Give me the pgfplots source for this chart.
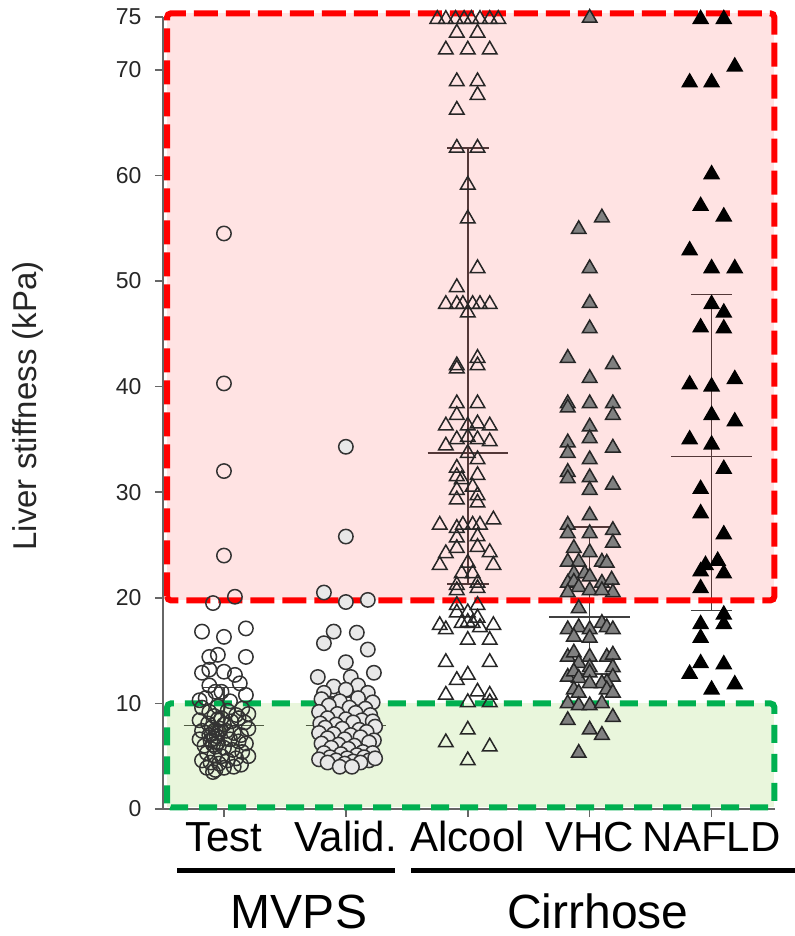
\documentclass[border=0pt]{standalone}
\usepackage{fontspec}
\setmainfont{Liberation Sans}
\usepackage{pgfplots}
\pgfplotsset{compat=1.18}
\definecolor{grfill}{RGB}{146,208,80}
\definecolor{grline}{RGB}{0,176,80}
\begin{document}
\begin{tikzpicture}
\useasboundingbox (-81.5pt,-63.5pt) rectangle (316pt,404.5pt);
\begin{axis}[
  at={(0,0)}, anchor=south west,
  scale only axis, width=306pt, height=396pt,
  xmin=0.5, xmax=5.52, ymin=0, ymax=75,
  axis x line*=bottom, axis y line*=left,
  axis line style={draw=black!60, line width=0.75pt},
  xtick={1,2,3,4,5}, xticklabels={Test,Valid.,Alcool,VHC,NAFLD},
  ytick={0,10,20,30,40,50,60,70,75},
  tick align=outside, major tick length=4pt,
  tick style={draw=black!60, line width=0.75pt},
  yticklabel style={font=\fontsize{11.5}{13}\selectfont, text=black!85, xshift=-3.2pt},
  xticklabel style={font=\fontsize{21}{25}\selectfont, anchor=base, yshift=-17.5pt},
  /pgf/number format/assume math mode=true,
  clip=false,
]
% Test
\addplot[only marks, mark=o, mark size=3.6pt, mark options={draw=black!80, line width=0.75pt}] coordinates {
(1.00,54.5) (1.00,40.3) (1.00,32.0) (1.00,24.0) (1.09,20.1) (0.91,19.5)
(0.82,16.8) (1.00,16.3) (1.18,17.1) (0.88,14.4) (0.95,14.6) (1.18,14.4)
(0.82,12.9) (0.88,13.2) (1.00,13.0) (1.09,12.7) (1.13,11.9) (1.18,10.8)
(0.88,11.7) (0.93,11.1) (0.85,10.5) (0.98,11.1) (1.05,10.2) (0.80,10.3)
(0.82,9.6) (0.95,9.7) (1.15,9.5) (0.88,9.2) (1.03,9.3) (1.20,9.0)
(0.92,8.8) (0.98,8.6) (1.10,8.9) (0.80,8.4) (1.06,8.3) (1.17,8.2)
(0.87,8.1) (1.00,8.0) (0.95,8.5) (1.12,8.6)
(0.90,7.7) (0.93,7.5) (0.96,7.3) (0.90,7.1) (0.94,6.9) (0.92,6.7) (0.89,6.5) (0.95,6.3) (0.91,6.1) (0.93,5.9)
(0.97,7.6) (0.88,7.0) (1.02,7.4) (1.08,7.2) (1.14,7.0) (1.20,7.6) (0.82,7.4) (0.80,6.6) (1.05,6.6) (1.12,6.4)
(1.18,6.2) (0.84,6.0) (1.00,5.8) (1.07,5.6) (1.15,5.4) (0.86,5.3) (0.92,5.1) (0.98,5.0) (1.10,4.8) (1.20,5.0)
(0.82,4.6) (0.89,4.4) (0.96,4.3) (1.03,4.6) (1.14,4.2) (0.86,3.9) (0.93,3.7) (1.00,3.9) (1.08,4.0) (0.91,3.5)
};
% Valid.
\addplot[only marks, mark=*, mark size=3.6pt, mark options={draw=black!80, fill=black!9, line width=0.75pt}] coordinates {
(2.00,34.3) (2.00,25.8) (1.82,20.5) (2.00,19.6) (2.18,19.8)
(1.90,16.8) (2.09,16.7) (1.82,15.7) (2.18,15.1) (2.00,13.9) (1.77,12.5) (2.04,12.5) (2.23,12.9)
(1.90,11.6) (1.82,11.0) (2.10,11.7) (2.18,11.0) (2.00,11.3)
(1.80,10.4) (1.95,10.2) (2.10,10.5) (2.22,10.1) (1.86,9.8) (2.03,9.6) (2.16,9.5) (1.78,9.2) (1.93,9.0)
(2.08,9.1) (2.20,8.9) (1.85,8.6) (2.00,8.5) (2.13,8.4) (1.79,8.1) (1.92,8.0) (2.06,8.2) (2.22,8.3)
(1.83,7.7) (1.97,7.6) (2.11,7.5) (2.24,7.8) (1.78,7.2) (1.90,7.1) (2.04,7.0) (2.17,7.3) (1.85,6.7)
(1.99,6.6) (2.12,6.8) (2.23,6.5) (1.80,6.2) (1.94,6.1) (2.07,6.0) (2.19,6.3) (1.88,5.8) (2.02,5.7)
(2.14,5.4) (1.82,5.3) (1.96,5.2) (2.09,5.1) (2.22,5.3) (1.87,4.9) (2.01,4.8) (2.15,4.9) (1.78,4.7)
(1.92,4.6) (2.06,4.5) (2.19,4.6) (1.85,4.4) (1.99,4.3) (2.12,4.4) (2.24,4.8) (1.95,4.0) (2.05,4.0)
};
% Alcool
\addplot[only marks, mark=triangle, mark size=4.2pt, mark options={draw=black!85, line width=0.75pt}] coordinates {
(2.75,74.8) (2.82,74.8) (2.90,74.8) (2.97,74.8) (3.03,74.8) (3.10,74.8) (3.18,74.8) (3.25,74.8)
(2.91,73.5) (3.08,73.5) (2.82,71.9) (3.00,71.9) (3.18,71.9) (2.91,68.9) (3.08,68.9) (3.08,67.6) (2.91,66.2)
(2.91,62.6) (3.08,62.6) (3.00,59.1) (3.00,55.9) (3.08,51.2) (2.91,49.4)
(2.82,47.8) (2.91,47.8) (2.96,47.8) (3.04,47.8) (3.10,47.8) (3.18,47.8) (3.00,47.0)
(2.91,42.0) (2.91,41.7) (3.08,42.7) (3.08,42.0) (2.91,38.4) (3.08,38.4) (2.91,37.3)
(2.82,36.3) (3.00,36.3) (3.08,36.5) (3.18,36.3) (2.91,35.0) (3.00,35.2) (3.08,35.0) (3.18,34.8) (2.82,34.4)
(3.00,33.7) (3.08,33.1) (2.91,32.3) (2.91,31.5) (3.08,31.6) (2.95,31.2) (3.04,30.5)
(2.91,30.2) (3.08,29.7) (3.08,29.0) (2.91,29.3)
(2.77,26.9) (2.91,26.6) (2.96,26.9) (3.04,26.9) (3.10,26.9) (3.21,27.4) (2.91,25.7) (3.08,25.8)
(2.91,24.7) (3.08,24.8) (2.82,24.2) (3.18,24.3) (2.77,23.1) (3.00,23.3) (3.21,23.1) (2.95,22.3) (3.04,22.3)
(2.91,21.2) (3.08,21.4) (2.91,20.7) (3.08,20.9) (2.91,19.3) (3.08,19.3)
(2.91,18.6) (3.00,18.6) (3.08,18.1) (2.77,17.4) (2.82,17.0) (2.95,17.6) (3.00,17.7) (3.04,17.6) (3.10,17.2) (3.21,17.4)
(3.00,16.0) (3.18,16.0) (2.82,13.9) (3.18,13.9) (2.91,12.2) (3.00,12.7) (2.82,10.8) (3.08,11.1) (3.18,10.8)
(3.00,10.1) (3.18,10.1) (3.00,7.5) (2.82,6.3) (3.18,5.9) (3.00,4.6)
};
% VHC
\addplot[only marks, mark=triangle*, mark size=4.2pt, mark options={draw=black!85, fill=black!50, line width=0.75pt}] coordinates {
(4.00,74.9) (4.10,56.0) (3.91,54.9) (4.00,51.2) (4.00,47.9) (4.00,45.5) (3.82,42.7) (4.19,42.1) (4.00,40.8)
(3.82,38.4) (3.82,38.0) (4.00,38.4) (4.19,38.4) (4.19,37.3) (4.00,36.2) (4.00,35.1) (3.82,34.7) (3.82,33.7)
(4.19,34.2) (4.00,33.1) (3.82,31.9) (3.82,31.3) (4.00,31.4) (4.00,30.2) (4.19,30.7) (4.00,27.8)
(3.82,26.9) (3.82,26.1) (4.00,26.1) (4.19,26.4) (4.19,25.2) (3.87,24.7) (4.00,24.3) (4.10,23.4) (4.14,23.3)
(3.82,23.4) (3.91,23.4) (3.87,22.3) (3.96,22.3) (4.00,22.0) (4.10,21.4) (4.18,21.7)
(3.82,21.4) (3.87,21.5) (3.91,21.0) (4.00,20.7) (3.82,20.5) (4.19,20.5) (4.10,20.7) (3.91,19.0)
(3.82,17.0) (3.91,17.2) (3.87,16.3) (4.00,17.0) (4.00,16.2) (4.10,17.6) (4.14,17.2) (4.19,17.0)
(3.82,14.4) (3.87,14.8) (3.91,13.8) (4.00,14.4) (4.00,13.4) (4.14,14.4) (4.19,14.6) (4.19,13.4)
(3.82,12.5) (3.87,13.0) (3.91,12.4) (4.00,12.9) (4.19,12.5) (4.14,12.0) (4.10,11.9)
(3.87,11.3) (3.91,11.0) (4.00,11.9) (4.14,11.3) (4.19,11.0)
(3.82,10.0) (3.91,9.8) (4.00,9.8) (4.10,10.0) (3.82,8.4) (4.19,8.7) (4.00,7.5) (4.10,7.0) (3.91,5.3)
};
% NAFLD
\addplot[only marks, mark=triangle*, mark size=4.2pt, mark options={draw=black, fill=black, line width=0.75pt}] coordinates {
(4.91,74.8) (5.10,74.8) (5.19,70.3) (4.82,68.8) (5.00,68.8) (5.00,60.1) (4.91,57.1) (5.10,56.1) (4.82,52.9)
(5.00,51.2) (5.19,51.2) (5.00,47.8) (5.10,47.0) (4.91,45.6) (5.10,45.5) (4.82,40.2) (5.00,40.0) (5.19,40.7)
(5.00,37.3) (5.19,36.7) (4.82,35.0) (5.00,34.5) (5.10,32.2) (4.91,30.3) (4.91,28.0) (5.10,26.0)
(4.91,22.5) (4.95,23.1) (5.05,23.5) (5.10,22.3) (4.91,20.9)
(4.91,17.5) (5.10,17.5) (4.91,16.2) (5.10,18.4) (4.91,13.8) (5.10,13.7) (4.82,12.8) (5.00,11.3) (5.19,11.8)
};
% medians and interquartile ranges
\addplot[black!75, line width=0.75pt, no markers, unbounded coords=jump] coordinates {
(0.67,7.9) (1.33,7.9) (1,nan) (1,6.0) (1,11.5) (1,nan) (0.83,6.0) (1.17,6.0) (1,nan) (0.83,11.5) (1.17,11.5) (1,nan)
(1.67,7.9) (2.33,7.9) (2,nan) (2,5.5) (2,10.6) (2,nan) (1.83,5.5) (2.17,5.5) (2,nan) (1.83,10.6) (2.17,10.6) (2,nan)
(2.67,33.7) (3.33,33.7) (3,nan) (3,21.3) (3,62.6) (3,nan) (2.83,21.3) (3.17,21.3) (3,nan) (2.83,62.6) (3.17,62.6) (3,nan)
(3.67,18.2) (4.33,18.2) (4,nan) (4,12.8) (4,26.7) (4,nan) (3.83,12.8) (4.17,12.8) (4,nan) (3.83,26.7) (4.17,26.7) (4,nan)
(4.67,33.4) (5.33,33.4) (5,nan) (5,18.8) (5,48.7) (5,nan) (4.83,18.8) (5.17,18.8) (5,nan) (4.83,48.7) (5.17,48.7)
};
% highlighted zones
\fill[red, fill opacity=0.11] (axis cs:0.533,19.75) rectangle (axis cs:5.515,75.35);
\draw[red, line width=3pt, dash pattern=on 12pt off 4pt, rounded corners=2pt] (axis cs:0.533,19.75) rectangle (axis cs:5.515,75.35);
\fill[grfill, fill opacity=0.2] (axis cs:0.533,0.15) rectangle (axis cs:5.515,10.0);
\draw[grline, line width=3pt, dash pattern=on 9pt off 5.5pt, rounded corners=2pt] (axis cs:0.533,0.15) rectangle (axis cs:5.515,10.0);
\end{axis}
\node[rotate=90, font=\fontsize{16.5}{19}\selectfont, text=black!85] at (-67.5pt,201.5pt) {Liver stiffness (kPa)};
\fill[black] (7pt,-32.1pt) rectangle (116pt,-29.4pt);
\fill[black] (124pt,-32.1pt) rectangle (320pt,-29.4pt);
\node[anchor=base, font=\fontsize{24}{28}\selectfont] at (68pt,-59.5pt) {MVPS};
\node[anchor=base, font=\fontsize{24}{28}\selectfont] at (217.5pt,-59.5pt) {Cirrhose};
\end{tikzpicture}
\end{document}
